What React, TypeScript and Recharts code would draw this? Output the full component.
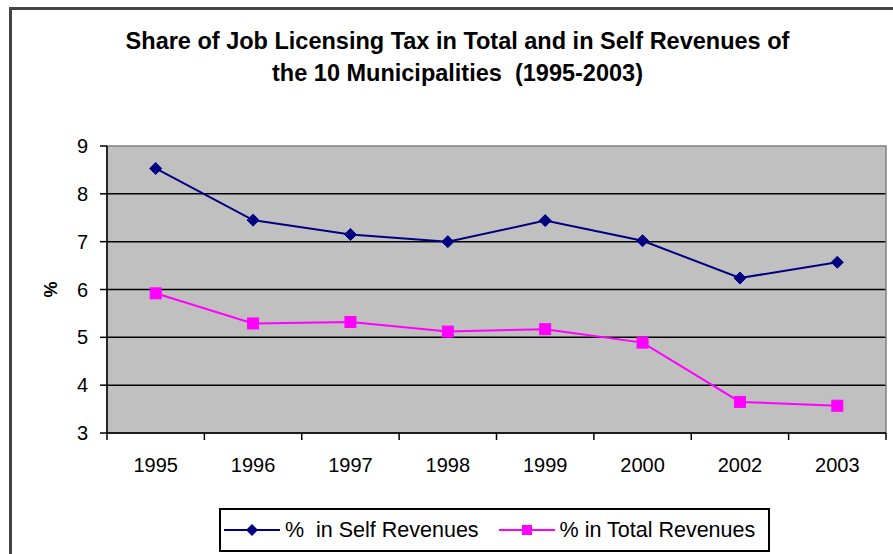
import React from 'react';
import { LineChart, Line, XAxis, YAxis, CartesianGrid, Legend, ReferenceArea } from 'recharts';

const years = ['1995', '1996', '1997', '1998', '1999', '2000', '2002', '2003'];
const selfRevenues = [8.53, 7.45, 7.15, 7.0, 7.44, 7.02, 6.24, 6.57];
const totalRevenues = [5.92, 5.29, 5.32, 5.12, 5.17, 4.89, 3.65, 3.57];
const yTicks = [3, 4, 5, 6, 7, 8, 9];
const gridValues = [3, 4, 5, 6, 7, 8];
const titleLines = ['Share of Job Licensing Tax in Total and in Self Revenues of', 'the 10 Municipalities  (1995-2003)'];
const seriesNames = ['%  in Self Revenues', '% in Total Revenues'];

const NAVY = '#000080';
const MAGENTA = '#FF00FF';
const FONT = '"Liberation Sans", Arial, sans-serif';

const data = years.map((y, i) => ({ pos: i + 0.5, year: y, self: selfRevenues[i], total: totalRevenues[i] }));
const xTicks: number[] = [];
for (let i = 0; i <= years.length; i++) {
  xTicks.push(i);
  if (i < years.length) xTicks.push(i + 0.5);
}

const Diamond = (props: any) => {
  const { cx, cy } = props;
  if (cx == null || cy == null) return null;
  const r = 6;
  return <polygon points={`${cx},${cy - r} ${cx + r},${cy} ${cx},${cy + r} ${cx - r},${cy}`} fill={NAVY} stroke={NAVY} />;
};

const Square = (props: any) => {
  const { cx, cy } = props;
  if (cx == null || cy == null) return null;
  const s = 5.5;
  return <rect x={cx - s} y={cy - s} width={2 * s} height={2 * s} fill={MAGENTA} stroke={MAGENTA} />;
};

const XTick = (props: any) => {
  const { x, y, payload } = props;
  const v = payload.value;
  if (Number.isInteger(v)) {
    return <line x1={x} x2={x} y1={y - 7} y2={y} stroke="#000" strokeWidth={1.5} />;
  }
  return (
    <text x={x} y={y + 32} textAnchor="middle" fontSize={20} fontFamily={FONT} fill="#000">
      {years[Math.floor(v)]}
    </text>
  );
};

const LegendIcon = ({ color, shape }: { color: string; shape: 'diamond' | 'square' }) => (
  <svg width={56} height={16} style={{ display: 'block', flex: 'none' }}>
    <line x1={0} x2={56} y1={8} y2={8} stroke={color} strokeWidth={2} />
    {shape === 'diamond' ? (
      <polygon points="28,2 34,8 28,14 22,8" fill={color} />
    ) : (
      <rect x={23} y={3} width={10} height={10} fill={color} />
    )}
  </svg>
);

const renderLegend = () => (
  <div
    style={{
      boxSizing: 'border-box',
      width: 551,
      height: 44,
      border: '2px solid #000',
      background: '#fff',
      display: 'flex',
      alignItems: 'center',
      fontFamily: FONT,
      fontSize: 21.5,
      color: '#000',
      paddingLeft: 3,
    }}
  >
    <LegendIcon color={NAVY} shape="diamond" />
    <span style={{ marginLeft: 5, whiteSpace: 'pre' }}>{seriesNames[0]}</span>
    <span style={{ marginLeft: 20 }} />
    <LegendIcon color={MAGENTA} shape="square" />
    <span style={{ marginLeft: 5, whiteSpace: 'pre' }}>{seriesNames[1]}</span>
  </div>
);

export default function App() {
  return (
    <div style={{ position: 'absolute', left: 0, top: 0, width: 893, height: 554, background: '#fff', overflow: 'hidden' }}>
      <div
        style={{
          position: 'absolute',
          left: 9,
          top: 7,
          width: 900,
          height: 600,
          border: '3px solid #444',
          boxSizing: 'border-box',
        }}
      />
      <div
        style={{
          position: 'absolute',
          left: 0,
          top: 25,
          width: 915,
          textAlign: 'center',
          fontFamily: FONT,
          fontWeight: 'bold',
          fontSize: 23.5,
          lineHeight: '32px',
          color: '#000',
          whiteSpace: 'pre',
        }}
      >
        {titleLines[0]}
        <br />
        {titleLines[1]}
      </div>
      <div style={{ position: 'absolute', left: 0, top: 0 }}>
        <LineChart width={893} height={554} data={data} margin={{ top: 146, right: 7, left: 0, bottom: 27 }}>
          <CartesianGrid
            fill="#C0C0C0"
            vertical={false}
            horizontalValues={gridValues}
            stroke="#000"
            strokeWidth={1.5}
            strokeOpacity={1}
          />
          <ReferenceArea x1={0} x2={years.length} y1={3} y2={9} fill="none" stroke="#808080" strokeWidth={1.5} ifOverflow="visible" />
          <XAxis
            dataKey="pos"
            type="number"
            domain={[0, years.length]}
            ticks={xTicks}
            interval={0}
            tick={<XTick />}
            tickLine={false}
            tickSize={7}
            tickMargin={0}
            height={50}
            axisLine={{ stroke: '#000', strokeWidth: 1.5 }}
          />
          <YAxis
            type="number"
            domain={[3, 9]}
            ticks={yTicks}
            interval={0}
            width={107}
            tickSize={7}
            tickMargin={12}
            tick={{ fontSize: 20, fontFamily: FONT, fill: '#000' }}
            tickLine={{ stroke: '#000', strokeWidth: 1.5 }}
            axisLine={{ stroke: '#000', strokeWidth: 1.5 }}
            label={{
              value: '%',
              angle: -90,
              position: 'insideLeft',
              offset: 51,
              style: { textAnchor: 'middle', fontSize: 18, fontWeight: 'bold', fontFamily: FONT, fill: '#000' },
            }}
          />
          <Legend
            verticalAlign="bottom"
            content={renderLegend}
            wrapperStyle={{ left: 219, top: 508, width: 551, height: 44, bottom: 'auto' }}
          />
          <Line
            type="linear"
            dataKey="self"
            name={seriesNames[0]}
            stroke={NAVY}
            strokeWidth={2}
            dot={<Diamond />}
            isAnimationActive={false}
          />
          <Line
            type="linear"
            dataKey="total"
            name={seriesNames[1]}
            stroke={MAGENTA}
            strokeWidth={2}
            dot={<Square />}
            isAnimationActive={false}
          />
        </LineChart>
      </div>
    </div>
  );
}
